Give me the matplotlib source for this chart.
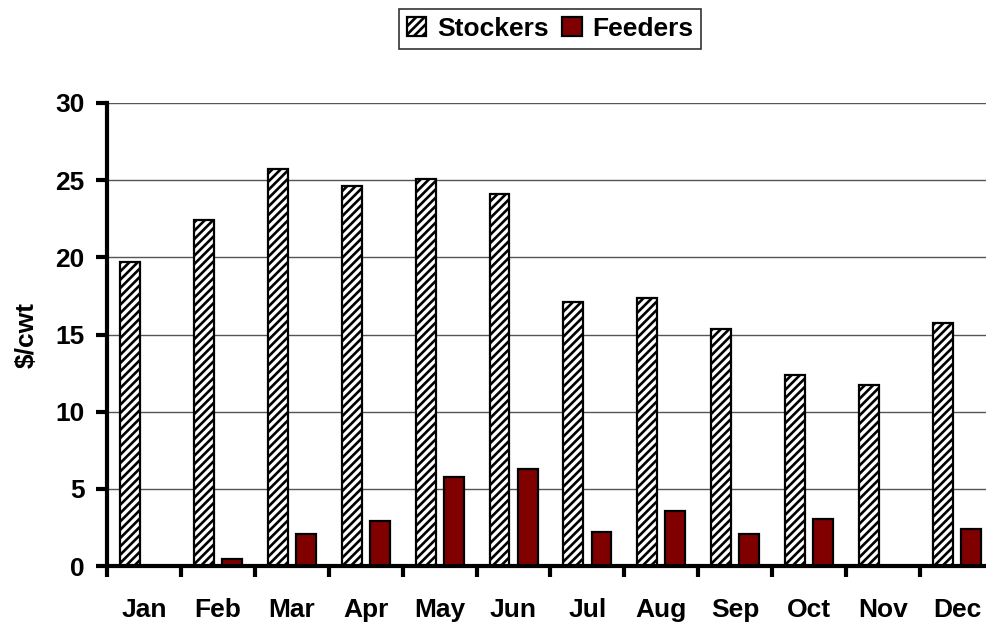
import numpy as np
import matplotlib
matplotlib.use("Agg")
import matplotlib.pyplot as plt

months = ["Jan", "Feb", "Mar", "Apr", "May", "Jun",
          "Jul", "Aug", "Sep", "Oct", "Nov", "Dec"]
stockers = [19.7, 22.4, 25.7, 24.6, 25.1, 24.1, 17.1, 17.35, 15.35, 12.4, 11.7, 15.75]
feeders = [0, 0.47, 2.07, 2.94, 5.77, 6.27, 2.2, 3.54, 2.07, 3.07, 0, 2.42]

plt.rcParams["font.family"] = ["Liberation Sans", "DejaVu Sans"]
plt.rcParams["font.weight"] = "bold"
plt.rcParams["hatch.linewidth"] = 1.9

fs = 19

fig = plt.figure(figsize=(9.87, 6.28), dpi=100)
ax = fig.add_axes([107 / 987, 1 - 566 / 628, 887 / 987, 463 / 628])

x = np.arange(len(months))
w = 0.27
ax.bar(x - 0.19, stockers, w, color="white", edgecolor="black",
       hatch="////", linewidth=1.6, label="Stockers", zorder=3)
ax.bar(x + 0.19, feeders, w, color="#800000", edgecolor="black",
       linewidth=1.6, label="Feeders", zorder=3)

ax.set_xlim(-0.5, len(months) - 0.5)
ax.set_ylim(0, 30)
ax.set_yticks(range(0, 31, 5))
ax.yaxis.grid(True, color="#555555", linewidth=1, zorder=0)

# boundaries as major ticks, month names on minor ticks
ax.set_xticks(np.arange(-0.5, len(months), 1))
ax.set_xticklabels([])
ax.set_xticks(x, minor=True)
ax.set_xticklabels(months, minor=True)
ax.tick_params(axis="x", which="major", length=8, width=3, direction="out")
ax.tick_params(axis="x", which="minor", length=0, pad=23, labelsize=fs)
ax.tick_params(axis="y", length=8, width=3, pad=8, labelsize=fs)

for s in ["top", "right"]:
    ax.spines[s].set_visible(False)
for s in ["left", "bottom"]:
    ax.spines[s].set_linewidth(3)
    ax.spines[s].set_zorder(4)

ax.set_ylabel("$/cwt", fontsize=fs, fontweight="bold", labelpad=12)

leg = fig.legend(loc="center", bbox_to_anchor=(550 / 987, 1 - 29 / 628),
                 ncol=2, frameon=True, fancybox=False, fontsize=fs,
                 handlelength=0.75, handleheight=0.75, handletextpad=0.4,
                 columnspacing=0.5, borderpad=0.3)
leg.get_frame().set_edgecolor("black")
leg.get_frame().set_linewidth(1.2)

fig.savefig("out.png", dpi=100)
